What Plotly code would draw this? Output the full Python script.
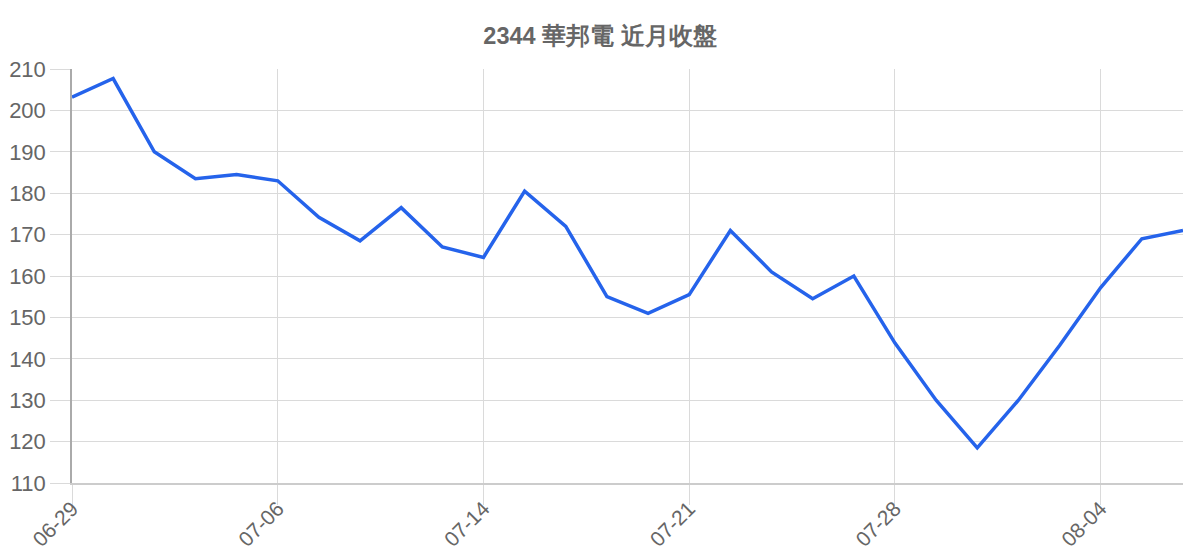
import plotly.graph_objects as go

# trading days (MM-DD) and closing prices
dates = ['06-29', '06-30', '07-03', '07-04', '07-05', '07-06', '07-07',
         '07-10', '07-11', '07-12', '07-14', '07-17', '07-18', '07-19',
         '07-20', '07-21', '07-24', '07-25', '07-26', '07-27', '07-28',
         '07-31', '08-01', '08-02', '08-03', '08-04', '08-07', '08-08']
close = [203.2, 207.7, 190.0, 183.5, 184.5, 183.0, 174.2,
         168.5, 176.5, 167.0, 164.5, 180.5, 172.0, 155.0,
         151.0, 155.5, 171.0, 161.0, 154.5, 160.0, 143.8,
         130.0, 118.5, 130.0, 143.2, 157.2, 169.0, 171.0]
tick_dates = ['06-29', '07-06', '07-14', '07-21', '07-28', '08-04']
y_ticks = list(range(110, 211, 10))

grid = '#dadada'
txt = '#666666'
font = 'Liberation Sans, Arial, sans-serif'

fig = go.Figure()
fig.add_trace(go.Scatter(
    x=dates, y=close, mode='lines',
    line=dict(color='#2563eb', width=3.5),
    hoverinfo='x+y',
))

fig.update_layout(
    width=1200, height=560,
    margin=dict(l=72, r=17, t=69, b=77),
    paper_bgcolor='white', plot_bgcolor='white',
    showlegend=False,
    font=dict(family=font, color=txt),
    title=dict(text='<b>2344 華邦電 近月收盤</b>', x=0.5, xanchor='center',
               y=0.937, yanchor='middle', font=dict(size=23.5, color=txt)),
)
fig.update_xaxes(
    type='category', range=[0, len(dates) - 1],
    tickmode='array', tickvals=tick_dates, ticktext=tick_dates,
    tickangle=-45, tickfont=dict(size=21, color=txt),
    showgrid=True, gridcolor=grid, gridwidth=1,
    ticks='outside', ticklen=20, tickcolor=grid,
    ticklabelstandoff=-17,
    showline=True, linecolor='#cccccc', linewidth=2,
    zeroline=False, automargin=False,
)
fig.update_yaxes(
    range=[110, 210], tickvals=y_ticks,
    tickfont=dict(size=22, color=txt),
    showgrid=True, gridcolor=grid, gridwidth=1,
    ticks='outside', ticklen=20, tickcolor=grid,
    showline=True, linecolor='#aaaaaa', linewidth=1.5,
    zeroline=False, automargin=False,
)

# drop the default page margin so the figure sits at the window origin
fig.write_html("out.html", config={'displayModeBar': False},
               post_script="document.body.style.margin='0';")
